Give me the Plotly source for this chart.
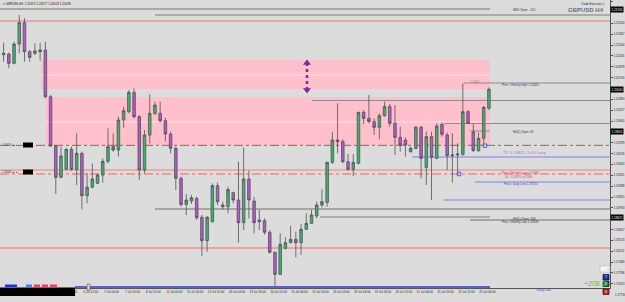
import pandas as pd
import plotly.graph_objects as go

# ---------------- data (GBPUSD H4) ----------------
opens = [1.2106, 1.2107, 1.2093, 1.2122, 1.2154, 1.21105, 1.2108, 1.21105, 1.2113, 1.2043,
         1.1969, 1.1922, 1.1934, 1.1964, 1.1934, 1.1958, 1.18945, 1.1907, 1.1913, 1.19255,
         1.1946, 1.1968, 1.1963, 1.2008, 1.20205, 1.20495, 1.2013, 1.1933, 1.19855, 1.2018,
         1.2018, 1.2007, 1.1987, 1.19655, 1.19205, 1.18815, 1.18865, 1.18905, 1.1862, 1.1827,
         1.18555, 1.19095, 1.18805, 1.1878, 1.1899, 1.1888, 1.1854, 1.19195, 1.18865, 1.1858,
         1.1857, 1.18395, 1.18095, 1.17765, 1.18155, 1.1824, 1.1829, 1.1824, 1.1844, 1.1853,
         1.1864, 1.18805, 1.18845, 1.19445, 1.1978, 1.19755, 1.19455, 1.1934, 1.1943, 1.20195,
         1.20105, 1.20055, 1.1997, 1.20145, 1.2028, 1.2003, 1.1982, 1.1978, 1.19605, 1.19655,
         1.1997, 1.1937, 1.1983, 1.19505, 1.20015, 1.19855, 1.19545, 1.19555, 1.19565, 1.20205,
         1.1990, 1.1962, 1.19805, 1.20255]
highs = [1.2124, 1.2109, 1.21255, 1.21655, 1.2161, 1.2113, 1.2123, 1.2124, 1.21255, 1.20455,
         1.19705, 1.1968, 1.19655, 1.1968, 1.1988, 1.19605, 1.1928, 1.1943, 1.1928, 1.19505,
         1.19955, 1.1988, 1.2013, 1.2028, 1.2053, 1.20555, 1.20155, 1.1993, 1.20465, 1.20355,
         1.20355, 1.20115, 1.19905, 1.1968, 1.1923, 1.1897, 1.18955, 1.1893, 1.18655, 1.1864,
         1.1913, 1.1914, 1.18855, 1.1908, 1.19005, 1.19455, 1.19665, 1.1932, 1.1893, 1.1873,
         1.18605, 1.1843, 1.18105, 1.1838, 1.1832, 1.1849, 1.18405, 1.1852, 1.1868, 1.1873,
         1.18855, 1.1904, 1.19455, 1.19905, 1.2033, 1.1979, 1.1957, 1.1957, 1.20205, 1.2023,
         1.20455, 1.20105, 1.2018, 1.20355, 1.2032, 1.20305, 1.1998, 1.1982, 1.1968, 1.1999,
         1.1999, 1.19905, 1.19905, 1.2003, 1.2004, 1.1989, 1.1988, 1.1973, 1.2063, 1.2023,
         1.2003, 1.1989, 1.2029, 1.2057]
lows = [1.20955, 1.20855, 1.20915, 1.2108, 1.20955, 1.20955, 1.21055, 1.2097, 1.20405, 1.1968,
        1.1897, 1.19205, 1.1933, 1.1932, 1.19105, 1.1874, 1.1883, 1.19055, 1.1912, 1.1914,
        1.1943, 1.19605, 1.1953, 1.19965, 1.2018, 1.20105, 1.1918, 1.1928, 1.1973, 1.20155,
        1.2004, 1.19755, 1.1958, 1.1903, 1.1878, 1.18655, 1.1882, 1.1858, 1.1804, 1.18105,
        1.1854, 1.18805, 1.1874, 1.1868, 1.1883, 1.1824, 1.1843, 1.18605, 1.1838, 1.1843,
        1.1836, 1.1808, 1.1759, 1.17755, 1.1814, 1.1823, 1.1802, 1.18055, 1.1843, 1.1852,
        1.18605, 1.1877, 1.1878, 1.1942, 1.1958, 1.1943, 1.1932, 1.1924, 1.19415, 1.2002,
        1.2003, 1.19855, 1.1979, 1.2013, 1.1998, 1.19555, 1.19605, 1.1953, 1.1959, 1.1964,
        1.19205, 1.19105, 1.1888, 1.1949, 1.1983, 1.1933, 1.1914, 1.19255, 1.1954, 1.2002,
        1.19605, 1.19605, 1.1968, 1.2023]
closes = [1.2108, 1.2093, 1.2122, 1.2154, 1.21105, 1.2102, 1.21115, 1.2113, 1.2043, 1.1969,
          1.1922, 1.1954, 1.1964, 1.1934, 1.1958, 1.18945, 1.1907, 1.19195, 1.19255, 1.1946,
          1.1968, 1.1963, 1.2008, 1.2022, 1.20495, 1.2013, 1.1933, 1.19855, 1.2018, 1.20305,
          1.2007, 1.1987, 1.19655, 1.19205, 1.18815, 1.1888, 1.18915, 1.18615, 1.1827, 1.1862,
          1.19095, 1.18855, 1.1878, 1.19035, 1.1888, 1.1854, 1.19195, 1.1888, 1.1854, 1.18555,
          1.18395, 1.18095, 1.17765, 1.18215, 1.1824, 1.1829, 1.1824, 1.1844, 1.1853, 1.18655,
          1.18805, 1.18855, 1.19445, 1.1978, 1.19755, 1.19455, 1.1934, 1.19445, 1.20195, 1.20105,
          1.20055, 1.1997, 1.20145, 1.2028, 1.2003, 1.1982, 1.19705, 1.19705, 1.19655, 1.1997,
          1.19505, 1.1983, 1.1952, 1.1999, 1.19865, 1.19545, 1.19555, 1.1957, 1.20205, 1.2003,
          1.1962, 1.19805, 1.2027, 1.2054]

# H4 bar times (trading days only)
days = pd.bdate_range("2022-07-04", "2022-07-25")
times = [d + pd.Timedelta(hours=h) for d in days for h in range(0, 24, 4)][:len(opens)]
bar_idx = list(range(len(opens)))

# horizontal price levels
level_prices = [1.21745, 1.21655, 1.21565, 1.20635, 1.20373, 1.20028, 1.19915, 1.19700,
                1.19525, 1.19330, 1.19270, 1.19150, 1.18880, 1.18745, 1.18625, 1.18580,
                1.18160, 1.17575]
# supply / demand zones: (top, bottom, middle line)
zone_tops = [1.20980, 1.20425]
zone_bottoms = [1.20545, 1.19705]
zone_mids = [1.20755, 1.20050]
# measured move arrow
arrow_prices = [1.20935, 1.20530]
# trade markers
trade_prices = [1.19270, 1.19695]

# right axis tick values
ytick_all = [round(1.21855 - 0.0016275 * k, 5) for k in range(27)]

# ---------------- styling / geometry ----------------
PLOT_W, PLOT_H = 610, 288
X0, X1 = -0.69, 116.2
Y0, Y1 = 1.1756, 1.2188
BG = "#dcdcdc"
FONT = "Liberation Sans"


def px_to_idx(px):
    return X0 + (X1 - X0) * px / PLOT_W


def px_x(px):
    return px / PLOT_W


def px_y(py):
    return 1 - py / PLOT_H


tag_prices = [level_prices[0], closes[-1], level_prices[6], level_prices[14]]
ytick_vals = [v for v in ytick_all if all(abs(v - t) > 0.0008 for t in tag_prices)]

fig = go.Figure()

fig.add_trace(go.Candlestick(
    x=bar_idx, open=opens, high=highs, low=lows, close=closes,
    increasing=dict(fillcolor="#3cb371", line=dict(color="#505050", width=0.8)),
    decreasing=dict(fillcolor="#ba55d3", line=dict(color="#505050", width=0.8)),
    whiskerwidth=0, showlegend=False, hoverinfo="skip"))

shapes = []
# zones
zone_start_px = [41, 46]
for top, bot, mid, sx in zip(zone_tops, zone_bottoms, zone_mids, zone_start_px):
    shapes.append(dict(type="rect", xref="x", yref="y", x0=px_to_idx(sx), x1=px_to_idx(490),
                       y0=bot, y1=top, fillcolor="#ffc0cb", line=dict(width=0), layer="below"))
    shapes.append(dict(type="line", xref="x", yref="y", x0=px_to_idx(sx), x1=px_to_idx(490),
                       y0=mid, y1=mid, line=dict(color="#ffe4ea", width=1), layer="below"))

# level styles: (start px, end px, color, width, dash)
level_styles = [
    (0, 490, "#a8a8a8", 2, "solid"),
    (155, 610, "#7a7a7a", 1, "solid"),
    (0, 610, "#e07a7a", 1, "solid"),
    (464, 610, "#8a8a8a", 1, "solid"),
    (312, 610, "#8a8a8a", 1, "solid"),
    (444, 610, "#8080f0", 1, "solid"),
    (470, 490, "#8a8a8a", 1, "solid"),
    (0, 610, "#a0623a", 1, "dashdot"),
    (412, 610, "#8080f0", 1, "solid"),
    (0, 610, "#f08080", 1, "solid"),
    (0, 610, "#f06060", 1, "dashdot"),
    (475, 610, "#8080f0", 1, "solid"),
    (444, 610, "#8080f0", 1, "solid"),
    (155, 610, "#707070", 1, "solid"),
    (320, 490, "#808080", 1, "solid"),
    (470, 610, "#707070", 1, "solid"),
    (0, 610, "#f0a0a0", 2, "solid"),
    (75, 490, "#3535c0", 1.5, "solid"),
]
for price, (sx, ex, col, w, dash) in zip(level_prices, level_styles):
    shapes.append(dict(type="line", xref="x", yref="y", x0=px_to_idx(sx), x1=px_to_idx(ex),
                       y0=price, y1=price, line=dict(color=col, width=w, dash=dash), layer="below"))


def prect(x0, y0, x1, y1, color, line=None):
    shapes.append(dict(type="rect", xref="paper", yref="paper", x0=px_x(x0), x1=px_x(x1),
                       y0=px_y(y1), y1=px_y(y0), fillcolor=color,
                       line=dict(width=0.6, color=line) if line else dict(width=0)))


# left level tags
prect(23, 142.5, 33, 147.5, "#000000")
prect(23, 169.5, 33, 174.5, "#000000")
# bottom-left black bar and toolbar icons
prect(0, 287.5, 75, 296, "#000000")
prect(5, 284.5, 17, 287, "#2030e0")
prect(26, 284.5, 32, 287, "#4080f0")
prect(34, 284.5, 40, 287, "#f04060")
prect(42, 284.5, 48, 287, "#f04060")
prect(50, 284.5, 57, 287, "#f04060")
prect(87, 284, 90, 290, "#dcdcdc", "#555555")
# right side buttons
prect(600, 266, 610, 272, "#f4f4f4", "#bbbbbb")
prect(603, 274.5, 609, 280, "#1030d0", "#000000")
prect(603, 281, 609, 286.5, "#108030", "#000000")
prect(603, 289, 609, 294.5, "#e02020", "#000000")

fig.update_layout(shapes=shapes)

# arrow (measured move)
fig.add_trace(go.Scatter(x=[px_to_idx(307)] * 2, y=arrow_prices, mode="lines+markers",
                         line=dict(color="#7a2c9e", width=2.5, dash="dot"),
                         marker=dict(symbol=["triangle-up", "triangle-down"], size=7, color="#7a2c9e"),
                         showlegend=False, hoverinfo="skip"))
# trade markers
fig.add_trace(go.Scatter(x=[px_to_idx(459), px_to_idx(485)], y=trade_prices, mode="markers",
                         marker=dict(symbol="square-open", size=3.5, color="#3070f0", line=dict(width=1)),
                         showlegend=False, hoverinfo="skip"))

ann = []


def text(px, py, s, color="#222222", size=3, bold=False, anchor="left"):
    ann.append(dict(xref="paper", yref="paper", x=px_x(px), y=px_y(py), text=f"<b>{s}</b>" if bold else s,
                    showarrow=False, xanchor=anchor, yanchor="middle",
                    font=dict(family=FONT, size=size, color=color)))


text(1, 3.5, "▾ GBPUSD,H4  1.20575 1.20577 1.20523 1.20539", "#111111", 3)
text(607, 3.5, "Trade Executor ⓘ", "#222222", 3, anchor="right")
text(606, 10, "GBPUSD H4", "#6e6e6e", 6, bold=True, anchor="right")
text(511, 10, "MN1 Open: -120", "#333333", 3)
text(468, 82.5, "1.2063", "#888888", 3)
text(500, 84.8, "Prev / Weekly High 1.20635", "#3a3a8a", 3)
text(511, 132, "H4(1) Open: 62", "#333333", 3)
text(501, 152.5, "TP: 1.19855, 2x01 Long", "#b070e0", 4)
text(500, 172.5, "Prev / Monthly Low 1.19330", "#e04040", 3)
text(503, 176.7, "SL: 1.19270, p-3190", "#e04040", 3)
text(502, 184, "Prev / Daily Low 1.19150", "#4040d0", 3)
text(511, 218.5, "H4(2) Open: 199", "#333333", 3)
text(500, 222.3, "Prev / Weekly Low 1.18580", "#333333", 3)
text(534, 290, "Yearly Low", "#4040d0", 3)
text(582, 283, "+208.6", "#44cc44", 7)
text(0, 145, "1.19700 ▲ ▲", "#333333", 2.6)
text(0, 172, "1.19330 ▲ ▲", "#333333", 2.6)
text(604.5, 269, "Scr", "#999999", 2.5)
text(606, 277.3, "T", "#ffffff", 3, anchor="center")
text(606, 283.8, "B", "#ffffff", 3, anchor="center")
text(606, 291.8, "S", "#ffffff", 3, anchor="center")
text(613, 295, "1.17790", "#222222", 3)

# black price tags on the right axis
for p in tag_prices:
    ann.append(dict(xref="paper", yref="y", x=1.0, y=p, text=f"{p:.5f}", showarrow=False,
                    xanchor="left", yanchor="middle", bgcolor="#000000", borderpad=0.5,
                    font=dict(family=FONT, size=3, color="#ffffff")))

fig.update_layout(annotations=ann)

# x-axis labels
xt_idx = list(range(3, len(times) - 2, 4))
xtick_vals = [0.56] + [i + 1.7 for i in xt_idx]
xtick_text = ["4 Jul 2022"] + [f"{times[i].day} {times[i]:%b %H:%M}" for i in xt_idx]

fig.update_layout(
    width=625, height=302,
    margin=dict(l=0, r=15, t=0, b=14),
    paper_bgcolor=BG, plot_bgcolor=BG,
    font=dict(family=FONT, size=3, color="#222222"),
    xaxis=dict(range=[X0, X1], rangeslider=dict(visible=False), showgrid=False, zeroline=False,
               showline=True, linecolor="#555555", linewidth=1, tickvals=xtick_vals, ticktext=xtick_text,
               ticks="", tickfont=dict(size=3, color="#222222"), automargin=False, fixedrange=True),
    yaxis=dict(range=[Y0, Y1], side="right", showgrid=False, zeroline=False, showline=True,
               linecolor="#555555", linewidth=1, ticks="outside", ticklen=2, tickcolor="#555555",
               tickvals=ytick_vals, ticktext=[f"{v:.5f}" for v in ytick_vals],
               tickfont=dict(size=3, color="#222222"), automargin=False, fixedrange=True),
)

fig.write_html("out.html")
